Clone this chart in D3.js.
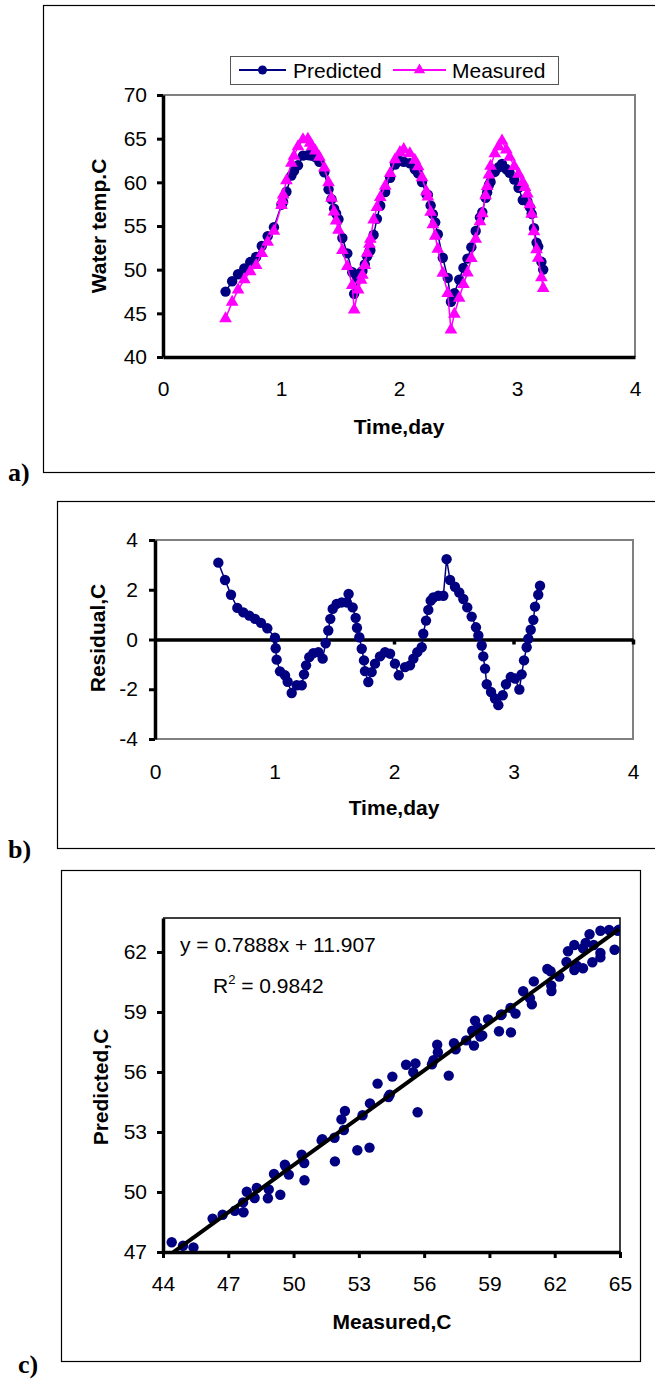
<!DOCTYPE html>
<html><head><meta charset="utf-8">
<script src="https://cdn.jsdelivr.net/npm/d3@7"></script>
<style>body{margin:0;background:#fff}svg{display:block}</style>
</head><body>
<svg id="c" width="655" height="1379"></svg>
<script>
// ---------- DATA ----------
const time = [0.53,0.586,0.636,0.689,0.739,0.789,0.837,0.887,0.94,1.004,1.01,1.018,1.046,1.088,1.11,1.144,1.186,1.228,1.247,1.264,1.291,1.325,1.367,1.403,1.428,1.45,1.467,1.487,1.52,1.562,1.604,1.62,1.654,1.679,1.69,1.71,1.73,1.749,1.757,1.785,1.813,1.841,1.883,1.925,1.967,2.008,2.04,2.092,2.134,2.162,2.195,2.232,2.245,2.268,2.287,2.307,2.329,2.371,2.413,2.44,2.469,2.51,2.546,2.58,2.613,2.65,2.686,2.706,2.734,2.747,2.762,2.776,2.812,2.845,2.873,2.91,2.937,2.977,3.013,3.049,3.068,3.088,3.11,3.124,3.144,3.166,3.18,3.207,3.222];
const measured = [44.40,46.28,47.68,48.86,49.78,50.49,51.88,53.17,54.42,57.37,57.93,58.58,60.20,62.21,63.01,64.10,64.90,64.95,64.50,64.10,63.60,62.90,61.66,59.97,58.21,56.63,55.60,54.54,52.20,50.37,48.21,45.40,47.70,48.82,49.39,50.50,51.90,52.93,53.49,55.70,57.13,58.29,59.56,61.04,62.61,63.42,63.79,63.30,62.54,61.81,60.55,58.94,58.34,56.60,55.17,53.86,52.36,49.60,47.30,43.10,44.92,46.74,48.31,49.64,51.29,53.51,55.50,56.43,58.47,59.53,60.86,61.85,63.30,64.10,64.75,63.73,62.90,61.84,60.95,59.99,59.44,58.67,57.45,56.36,54.36,52.31,51.32,49.10,47.85];
const predicted = [47.49,48.67,49.48,50.13,50.87,51.45,52.71,53.84,54.87,57.44,57.58,57.77,58.92,60.77,61.31,61.95,63.06,63.11,63.10,63.06,62.89,62.35,61.15,59.20,58.06,56.99,56.43,55.77,53.63,51.86,49.70,47.23,48.99,49.69,49.86,50.59,51.53,52.09,52.22,53.99,55.82,57.32,58.88,60.53,62.04,62.45,62.35,62.19,61.50,61.04,60.04,58.63,58.57,57.36,56.36,55.42,54.05,51.36,49.06,46.33,47.31,48.86,50.20,51.27,52.58,54.43,55.99,56.59,58.23,58.85,59.69,60.05,61.19,61.73,62.11,61.49,61.10,60.33,59.38,57.98,58.04,57.83,57.14,56.39,54.75,53.10,52.64,50.90,50.01];
const residual = predicted.map((p,i)=>+(p-measured[i]).toFixed(2));   // Predicted - Measured

const seriesNames = ["Predicted","Measured"];
const timeTicks = [0,1,2,3,4];
const tempTicks = [40,45,50,55,60,65,70];
const residTicks = [-4,-2,0,2,4];
const measTicks = [44,47,50,53,56,59,62,65];
const predTicks = [47,50,53,56,59,62];
const trendSlope = 0.7888, trendIntercept = 11.907, trendR2 = 0.9842;

// ---------- DRAWING ----------
const FONT = '"Liberation Sans", Arial, Helvetica, sans-serif';
const SERIF = '"Liberation Serif", "Times New Roman", serif';
const NAVY = "#000080", MAG = "#FF00FF";
const FS = 21;
const R = 5.2;
const fmt = d => String(d);
const svg = d3.select("#c");

function frame(x,y,w,h){
  svg.append("rect").attr("x",x+0.5).attr("y",y+0.5).attr("width",w).attr("height",h)
    .attr("fill","none").attr("stroke","#000").attr("stroke-width",1.2);
}
function styleAxis(g, dw, tw){
  g.attr("font-size",null).attr("font-family",null);
  g.select(".domain").attr("stroke","#000").attr("stroke-width",dw);
  g.selectAll(".tick line").attr("stroke","#000").attr("stroke-width",tw);
  g.selectAll(".tick text").attr("font-family",FONT).attr("font-size",FS).attr("fill","#000");
}
function label(txt,x,y,opts={}){
  return svg.append("text").attr("x",x).attr("y",y).text(txt)
    .attr("font-family",opts.serif?SERIF:FONT).attr("font-size",opts.size||FS)
    .attr("font-weight",opts.bold?"bold":"normal").attr("text-anchor",opts.anchor||"start").attr("fill","#000");
}
function vlabel(txt,x,y){
  svg.append("text").attr("transform",`translate(${x},${y}) rotate(-90)`).attr("text-anchor","middle")
    .attr("font-family",FONT).attr("font-size",FS).attr("font-weight","bold").text(txt);
}

// outer frames and panel letters
frame(43,5,640,467);
frame(57,501,640,347);
frame(61,870,579,491);
label("a)",8,481,{serif:true,bold:true,size:26});
label("b)",8,858,{serif:true,bold:true,size:26});
label("c)",18,1373,{serif:true,bold:true,size:26});

// ===== Panel a =====
const xA = d3.scaleLinear().domain([0,4]).range([163,635]);
const yA = d3.scaleLinear().domain([40,70]).range([357,95]);
svg.append("path").attr("d",`M${xA(0)},${yA(70)}H${xA(4)}V${yA(40)}`)
  .attr("fill","none").attr("stroke","#808080").attr("stroke-width",2);
const gyA = svg.append("g").attr("transform",`translate(${xA(0)},0)`)
  .call(d3.axisLeft(yA).tickValues(tempTicks).tickFormat(fmt).tickSize(6).tickSizeOuter(0).tickPadding(10));
styleAxis(gyA,3.5,3);
const gxA = svg.append("g").attr("transform",`translate(0,${yA(40)})`)
  .call(d3.axisBottom(xA).tickValues(timeTicks).tickFormat(fmt).tickSize(0).tickSizeOuter(0).tickPadding(24));
styleAxis(gxA,3.5,0);

const lineA = (vals)=>d3.line().x((d,i)=>xA(time[i])).y(d=>yA(d))(vals);
svg.append("path").attr("d",lineA(predicted)).attr("fill","none").attr("stroke",NAVY).attr("stroke-width",1.5);
svg.append("g").selectAll("circle").data(predicted).join("circle")
  .attr("cx",(d,i)=>xA(time[i])).attr("cy",d=>yA(d)).attr("r",R).attr("fill",NAVY);
svg.append("path").attr("d",lineA(measured)).attr("fill","none").attr("stroke",MAG).attr("stroke-width",1.5);
const tri = d3.symbol().type(d3.symbolTriangle).size(70);
svg.append("g").selectAll("path").data(measured).join("path")
  .attr("transform",(d,i)=>`translate(${xA(time[i])},${yA(d)})`).attr("d",tri).attr("fill",MAG);

vlabel("Water temp.C",106,226);
label("Time,day",399,434,{bold:true,anchor:"middle"});

// legend
svg.append("rect").attr("x",230.5).attr("y",56.5).attr("width",328).attr("height",28)
  .attr("fill","#fff").attr("stroke","#555").attr("stroke-width",1);
const lg = [{x0:239,x1:286,c:NAVY,tx:293},{x0:393,x1:446,c:MAG,tx:452}];
lg.forEach((L,k)=>{
  svg.append("line").attr("x1",L.x0).attr("x2",L.x1).attr("y1",70).attr("y2",70).attr("stroke",L.c).attr("stroke-width",2);
  const mx=(L.x0+L.x1)/2;
  if(k===0) svg.append("circle").attr("cx",mx).attr("cy",70).attr("r",4.5).attr("fill",NAVY);
  else svg.append("path").attr("transform",`translate(${mx},70)`).attr("d",d3.symbol().type(d3.symbolTriangle).size(55)).attr("fill",MAG);
  label(seriesNames[k],L.tx,77.5);
});

// ===== Panel b =====
const xB = d3.scaleLinear().domain([0,4]).range([155,633]);
const yB = d3.scaleLinear().domain([-4,4]).range([739,540]);
svg.append("path").attr("d",`M${xB(0)},${yB(4)}H${xB(4)}V${yB(-4)}H${xB(0)}`)
  .attr("fill","none").attr("stroke","#808080").attr("stroke-width",2);
const gyB = svg.append("g").attr("transform",`translate(${xB(0)},0)`)
  .call(d3.axisLeft(yB).tickValues(residTicks).tickFormat(fmt).tickSize(6).tickSizeOuter(0).tickPadding(11));
styleAxis(gyB,3.5,3);
const gzB = svg.append("g").attr("transform",`translate(0,${yB(0)})`)
  .call(d3.axisBottom(xB).tickValues([1,2,3,4]).tickSize(5).tickSizeOuter(0).tickFormat(""));
styleAxis(gzB,3.5,3.5);
const gxB = svg.append("g").attr("transform",`translate(0,${yB(-4)})`)
  .call(d3.axisBottom(xB).tickValues(timeTicks).tickFormat(fmt).tickSize(0).tickPadding(25));
gxB.select(".domain").remove();
styleAxis(gxB,0,0);

svg.append("path").attr("d",d3.line().x((d,i)=>xB(time[i])).y(d=>yB(d))(residual))
  .attr("fill","none").attr("stroke",NAVY).attr("stroke-width",1.5);
svg.append("g").selectAll("circle").data(residual).join("circle")
  .attr("cx",(d,i)=>xB(time[i])).attr("cy",d=>yB(d)).attr("r",R).attr("fill",NAVY);

vlabel("Residual,C",105,638);
label("Time,day",394,815,{bold:true,anchor:"middle"});

// ===== Panel c =====
const xC = d3.scaleLinear().domain([44,65]).range([163,620]);
const yC = d3.scaleLinear().domain([47,63.7]).range([1252,918]);
svg.append("defs").append("clipPath").attr("id","clipC").append("rect")
  .attr("x",xC(44)).attr("y",yC(63.7)).attr("width",xC(65)-xC(44)).attr("height",yC(47)-yC(63.7));
svg.append("path").attr("d",`M${xC(44)},${yC(63.7)}H${xC(65)}V${yC(47)}`)
  .attr("fill","none").attr("stroke","#000").attr("stroke-width",1.5);

const pts = measured.map((m,i)=>({m, p:predicted[i]}))
  .filter(d=>d.m>=44 && d.m<=65 && d.p>=47 && d.p<=63.7);
const gc = svg.append("g").attr("clip-path","url(#clipC)");
gc.selectAll("circle").data(pts).join("circle")
  .attr("cx",d=>xC(d.m)).attr("cy",d=>yC(d.p)).attr("r",R).attr("fill",NAVY);
const ext = d3.extent(measured);
gc.append("line").attr("x1",xC(ext[0])).attr("y1",yC(trendSlope*ext[0]+trendIntercept))
  .attr("x2",xC(ext[1])).attr("y2",yC(trendSlope*ext[1]+trendIntercept))
  .attr("stroke","#000").attr("stroke-width",4);

const gyC = svg.append("g").attr("transform",`translate(${xC(44)},0)`)
  .call(d3.axisLeft(yC).tickValues(predTicks).tickFormat(fmt).tickSize(6).tickSizeOuter(0).tickPadding(10));
styleAxis(gyC,3.5,3);
const gxC = svg.append("g").attr("transform",`translate(0,${yC(47)})`)
  .call(d3.axisBottom(xC).tickValues(measTicks).tickFormat(fmt).tickSize(6).tickSizeOuter(0).tickPadding(18));
styleAxis(gxC,3.5,3);

label(`y = ${trendSlope}x + ${trendIntercept}`,180,952);
const r2 = label("R",213,993);
r2.append("tspan").attr("dy",-9).attr("font-size",13).text("2");
r2.append("tspan").attr("dy",9).text(` = ${trendR2}`);

vlabel("Predicted,C",108,1087);
label("Measured,C",392,1329,{bold:true,anchor:"middle"});
</script>
</body></html>
